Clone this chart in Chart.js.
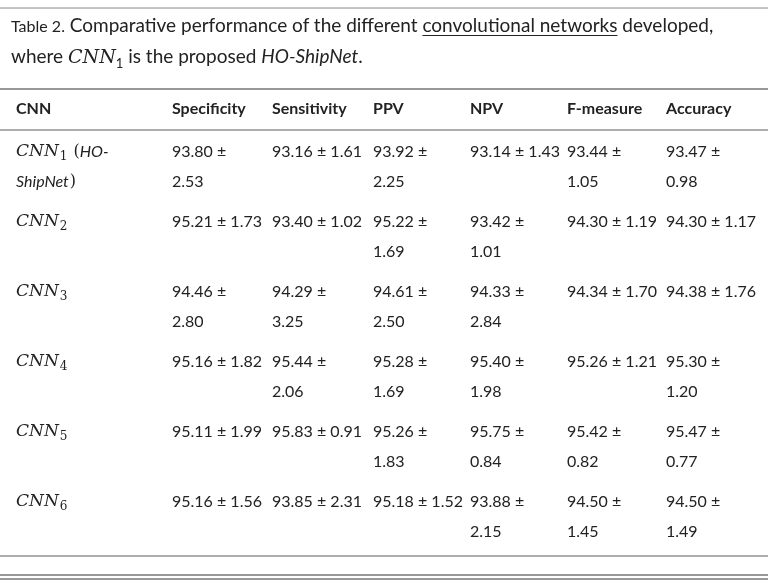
<!DOCTYPE html>
<html>
<head>
<meta charset="utf-8">
<script src="https://cdn.jsdelivr.net/npm/chart.js@4/dist/chart.umd.min.js"></script>
<style>
  body { margin: 0; background: #fff; }
  #wrap { position: relative; width: 768px; height: 584px; }
  #caption {
    position: absolute; left: 11px; top: 10px; width: 750px;
    font-family: "Charis SIL", "DejaVu Serif", "Noto Serif", serif;
    font-family: Lato, "Noto Sans", sans-serif;
    font-size: 19px; line-height: 30px; color: #222;
  }
  #caption .lab { font-size: 16px; }
  #caption u { text-decoration-thickness: 1px; text-underline-offset: 3px; }
  #caption .m { font-family: "DejaVu Serif", serif; font-style: italic; }
  canvas { position: absolute; left: 0; top: 0; }
</style>
</head>
<body>
<div id="wrap">
  <canvas id="tableChart" width="768" height="584"></canvas>
  <div id="caption"><span class="lab">Table 2.</span> Comparative performance of the different <u>convolutional networks</u> developed,<br>where <span class="m">CNN</span><sub style="font-size:13px">1</sub> is the proposed <i>HO-ShipNet</i>.</div>
</div>
<script>
const headers = ["CNN", "Specificity", "Sensitivity", "PPV", "NPV", "F-measure", "Accuracy"];
const rowNames = ["1", "2", "3", "4", "5", "6"];
const cells = [
  ["93.80 ±\n2.53", "93.16 ± 1.61", "93.92 ±\n2.25", "93.14 ± 1.43", "93.44 ±\n1.05", "93.47 ±\n0.98"],
  ["95.21 ± 1.73", "93.40 ± 1.02", "95.22 ±\n1.69", "93.42 ±\n1.01", "94.30 ± 1.19", "94.30 ± 1.17"],
  ["94.46 ±\n2.80", "94.29 ±\n3.25", "94.61 ±\n2.50", "94.33 ±\n2.84", "94.34 ± 1.70", "94.38 ± 1.76"],
  ["95.16 ± 1.82", "95.44 ±\n2.06", "95.28 ±\n1.69", "95.40 ±\n1.98", "95.26 ± 1.21", "95.30 ±\n1.20"],
  ["95.11 ± 1.99", "95.83 ± 0.91", "95.26 ±\n1.83", "95.75 ±\n0.84", "95.42 ±\n0.82", "95.47 ±\n0.77"],
  ["95.16 ± 1.56", "93.85 ± 2.31", "95.18 ± 1.52", "93.88 ±\n2.15", "94.50 ±\n1.45", "94.50 ±\n1.49"]
];

// layout (pixels in the 0..768 / 0..584 scale space)
const colX = [16, 172, 272, 373, 470, 567, 666];
const headerY = 109;
const firstRowY = 152;
const rowStep = 70;
const lineStep = 30;

const tablePlugin = {
  id: "tablePlugin",
  afterDraw(chart) {
    const ctx = chart.ctx;
    const xs = chart.scales.x;
    const ys = chart.scales.y;
    const px = v => xs.getPixelForValue(v);
    const py = v => ys.getPixelForValue(v);
    ctx.save();
    ctx.fillStyle = "#222";
    ctx.strokeStyle = "#333";

    const hline = (y, w) => {
      ctx.lineWidth = w;
      ctx.beginPath();
      ctx.moveTo(px(0), py(y));
      ctx.lineTo(px(768), py(y));
      ctx.stroke();
    };
    ctx.strokeStyle = "#888"; hline(8, 1);
    ctx.strokeStyle = "#333"; hline(89, 1.2);
    hline(130, 0.8);
    hline(556, 0.8);
    hline(575, 1); hline(579, 1);

    ctx.textBaseline = "middle";
    ctx.font = "bold 16px Lato, sans-serif";
    headers.forEach((h, i) => ctx.fillText(h, px(colX[i]), py(headerY)));

    rowNames.forEach((n, r) => {
      const y = firstRowY + r * rowStep;
      ctx.font = "italic 17px 'DejaVu Serif', serif";
      ctx.fillText("CNN", px(colX[0]), py(y));
      const w = ctx.measureText("CNN").width;
      ctx.font = "12px 'DejaVu Serif', serif";
      ctx.fillText(n, px(colX[0]) + w + 1, py(y + 5));
      if (r === 0) {
        const w2 = w + 1 + ctx.measureText(n).width + 6;
        ctx.font = "16px 'DejaVu Serif', serif";
        ctx.fillText("(", px(colX[0]) + w2, py(y));
        const w3 = w2 + ctx.measureText("(").width;
        ctx.font = "italic 16px Lato, sans-serif";
        ctx.fillText("HO-", px(colX[0]) + w3, py(y));
        ctx.fillText("ShipNet", px(colX[0]), py(y + lineStep));
        const w4 = ctx.measureText("ShipNet").width;
        ctx.font = "16px 'DejaVu Serif', serif";
        ctx.fillText(")", px(colX[0]) + w4 + 1, py(y + lineStep));
      }
      ctx.font = "16px Lato, sans-serif";
      cells[r].forEach((c, i) => {
        c.split("\n").forEach((line, k) => {
          ctx.fillText(line, px(colX[i + 1]), py(y + k * lineStep));
        });
      });
    });
    ctx.restore();
  }
};

new Chart(document.getElementById("tableChart").getContext("2d"), {
  type: "scatter",
  data: { datasets: [{ data: [] }] },
  options: {
    responsive: false,
    animation: false,
    layout: { padding: 0 },
    plugins: { legend: { display: false }, tooltip: { enabled: false } },
    scales: {
      x: { type: "linear", min: 0, max: 768, display: false },
      y: { type: "linear", min: 0, max: 584, reverse: true, display: false }
    }
  },
  plugins: [tablePlugin]
});
</script>
</body>
</html>
